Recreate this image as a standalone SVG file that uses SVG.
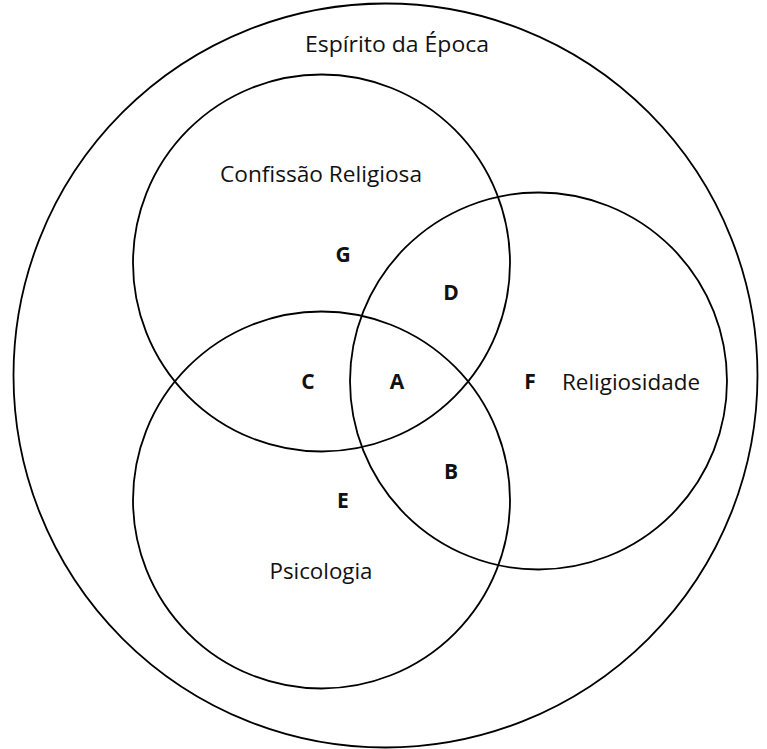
<svg xmlns="http://www.w3.org/2000/svg" width="767" height="749" viewBox="0 0 767 749">
<style>
.c{fill:none;stroke:#000;stroke-width:1.8}
.t{font-family:"Open Sans","Liberation Sans",sans-serif;font-size:21px;fill:#111;text-anchor:middle}
.b{font-family:"Open Sans","Liberation Sans",sans-serif;font-size:21px;font-weight:bold;fill:#111;text-anchor:middle}
</style>
<rect width="767" height="749" fill="#fff"/>
<g id="epoca">
<circle class="c" cx="385.5" cy="375.5" r="372"/>
<text class="t" x="397" y="52" textLength="184" lengthAdjust="spacingAndGlyphs">Espírito da Época</text>
</g>
<g id="confissao">
<circle class="c" cx="321.5" cy="263" r="188.5"/>
<text class="t" x="321" y="182" textLength="202" lengthAdjust="spacingAndGlyphs">Confissão Religiosa</text>
</g>
<g id="religiosidade">
<circle class="c" cx="538.5" cy="381" r="188.5"/>
<text class="t" x="631" y="390" textLength="138" lengthAdjust="spacingAndGlyphs">Religiosidade</text>
</g>
<g id="psicologia">
<circle class="c" cx="321.5" cy="500" r="188.5"/>
<text class="t" x="321" y="579" textLength="103" lengthAdjust="spacingAndGlyphs">Psicologia</text>
</g>
<g id="labels">
<text class="b" x="343" y="262">G</text>
<text class="b" x="451" y="300">D</text>
<text class="b" x="308" y="389">C</text>
<text class="b" x="397" y="389">A</text>
<text class="b" x="530" y="389">F</text>
<text class="b" x="451" y="479">B</text>
<text class="b" x="343" y="508">E</text>
</g>
<g id="connectors"></g>
</svg>
